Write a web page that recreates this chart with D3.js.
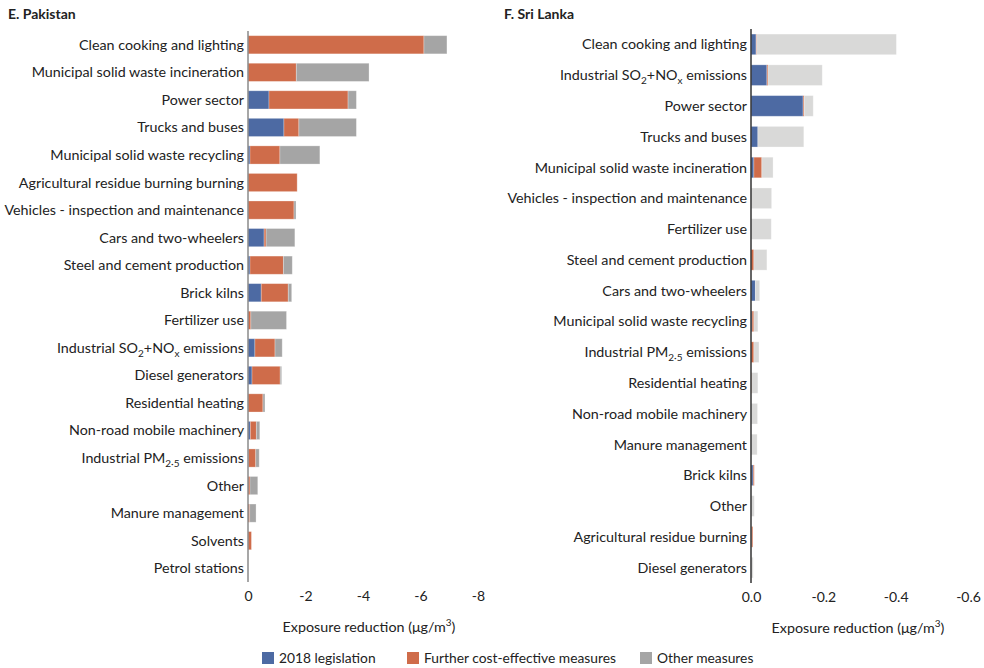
<!DOCTYPE html>
<html lang="en">
<head>
<meta charset="utf-8">
<title>Exposure reduction by sector</title>
<script src="https://d3js.org/d3.v7.min.js"></script>
<style>
  body { margin: 0; background: #fff; }
  svg text { font-family: Lato, "Noto Sans", sans-serif; fill: #222; }
  .title { font-size: 14px; font-weight: bold; }
  .cat { font-size: 14.3px; }
  .tick text { font-size: 14px; }
  .axtitle { font-size: 14.3px; }
  .legend { font-size: 13.8px; }
</style>
</head>
<body>
<svg id="chart" width="984" height="668"></svg>
<script>
// ---- data (exposure reduction, µg/m3, negative = reduction) ----
// {..} marks subscript text
const pkCats = ["Clean cooking and lighting", "Municipal solid waste incineration", "Power sector",
  "Trucks and buses", "Municipal solid waste recycling", "Agricultural residue burning burning",
  "Vehicles - inspection and maintenance", "Cars and two-wheelers", "Steel and cement production",
  "Brick kilns", "Fertilizer use", "Industrial SO{2}+NO{x} emissions", "Diesel generators",
  "Residential heating", "Non-road mobile machinery", "Industrial PM{2·5} emissions", "Other",
  "Manure management", "Solvents", "Petrol stations"];
const pkLegislation = [0, 0, -0.73, -1.25, -0.07, 0, 0, -0.56, -0.07, -0.46, 0, -0.24, -0.14, 0, -0.08, -0.02, 0, 0, 0, 0];
const pkFurther     = [-6.12, -1.68, -2.75, -0.52, -1.04, -1.71, -1.60, -0.07, -1.16, -0.94, -0.10, -0.70, -0.98, -0.52, -0.21, -0.25, -0.07, -0.06, -0.12, 0];
const pkOther       = [-0.80, -2.53, -0.29, -2.00, -1.39, 0, -0.07, -1.00, -0.31, -0.12, -1.24, -0.25, -0.05, -0.07, -0.12, -0.12, -0.27, -0.22, 0, 0];
const pkTicks = [0, -2, -4, -6, -8];

const lkCats = ["Clean cooking and lighting", "Industrial SO{2}+NO{x} emissions", "Power sector",
  "Trucks and buses", "Municipal solid waste incineration", "Vehicles - inspection and maintenance",
  "Fertilizer use", "Steel and cement production", "Cars and two-wheelers",
  "Municipal solid waste recycling", "Industrial PM{2·5} emissions", "Residential heating",
  "Non-road mobile machinery", "Manure management", "Brick kilns", "Other",
  "Agricultural residue burning", "Diesel generators"];
const lkLegislation = [-0.014, -0.044, -0.144, -0.019, -0.008, 0, 0, 0, -0.012, -0.003, 0, 0, 0, 0, -0.006, 0, -0.001, 0];
const lkFurther     = [-0.002, -0.003, -0.003, 0, -0.022, 0, 0, -0.008, 0, -0.005, -0.008, -0.002, 0, 0, -0.003, 0, -0.004, 0];
const lkOther       = [-0.386, -0.150, -0.025, -0.127, -0.031, -0.057, -0.056, -0.036, -0.012, -0.011, -0.014, -0.017, -0.018, -0.017, 0, -0.009, 0, -0.006];
const lkTicks = [0, -0.2, -0.4, -0.6];

const seriesNames = ["2018 legislation", "Further cost-effective measures", "Other measures"];
const colors = ["#4d6aa3", "#cf6c4a", "#a5a5a5"];
const lkOtherColor = "#d9d9d8";

const svg = d3.select("#chart");

// split "abc{sub}def" into tspans, subscript lowered by 4px
function writeLabel(sel, str) {
  const parts = str.split(/(\{[^}]*\})/).filter(p => p.length);
  let shift = 0;
  parts.forEach(p => {
    if (p[0] === "{") {
      sel.append("tspan").attr("font-size", "10px").attr("dy", 4 - shift).text(p.slice(1, -1));
      shift = 4;
    } else {
      sel.append("tspan").attr("dy", -shift).text(p);
      shift = 0;
    }
  });
}

function panel(opt) {
  const g = svg.append("g");
  const y = d3.scaleBand().domain(opt.cats).range([opt.top, opt.bottom]).paddingInner(opt.pad).paddingOuter(opt.pad / 2);
  const x = d3.scaleLinear().domain(opt.domain).range([opt.x0, opt.x1]);

  const rows = opt.cats.map((c, i) => {
    const vals = [opt.leg[i], opt.fur[i], opt.oth[i]];
    let acc = 0;
    return vals.map((v, k) => { const s = acc; acc += v; return { cat: c, k: k, s: s, e: acc }; });
  }).flat();

  g.selectAll("rect.bar").data(rows.filter(d => d.e !== d.s)).join("rect")
    .attr("class", "bar")
    .attr("x", d => x(d.s))
    .attr("y", d => y(d.cat))
    .attr("width", d => x(d.e) - x(d.s))
    .attr("height", y.bandwidth())
    .attr("fill", d => d.k === 2 ? opt.otherColor : colors[d.k])
    .attr("stroke", "rgba(255,255,255,0.35)")
    .attr("stroke-width", 0.8);

  g.selectAll("text.cat").data(opt.cats).join("text")
    .attr("class", "cat")
    .attr("x", opt.x0 - 4)
    .attr("y", d => y(d) + y.bandwidth() / 2 + 5)
    .attr("text-anchor", "end")
    .each(function (d) { writeLabel(d3.select(this), d); });

  // axis line along zero
  g.append("line")
    .attr("x1", x(0)).attr("x2", x(0))
    .attr("y1", opt.top).attr("y2", opt.bottom)
    .attr("stroke", opt.axisColor).attr("stroke-width", 1.5);

  const ax = g.append("g")
    .attr("transform", `translate(0,${opt.bottom})`)
    .call(d3.axisBottom(x).tickValues(opt.ticks).tickSize(0).tickPadding(9)
      .tickFormat(d => opt.fmt(d)));
  ax.select(".domain").remove();
  ax.selectAll("text").attr("fill", "#222").style("font-family", "Lato, 'Noto Sans', sans-serif");

  const t = g.append("text").attr("class", "axtitle")
    .attr("x", opt.titleX).attr("y", opt.bottom + 50).attr("text-anchor", "middle");
  t.append("tspan").text("Exposure reduction (μg/m");
  t.append("tspan").attr("font-size", "10px").attr("dy", -6).text("3");
  t.append("tspan").attr("dy", 6).text(")");

  g.append("text").attr("class", "title").attr("x", opt.titleLeft).attr("y", 19).text(opt.title);
}

panel({
  title: "E. Pakistan", titleLeft: 8,
  cats: pkCats, leg: pkLegislation, fur: pkFurther, oth: pkOther, otherColor: colors[2],
  top: 31, bottom: 582, pad: 0.34,
  domain: [0, -8], x0: 248, x1: 478, ticks: pkTicks,
  fmt: d => d === 0 ? "0" : d3.format("d")(d).replace("−", "-"),
  axisColor: "#8a8a8a", titleX: 369
});

panel({
  title: "F. Sri Lanka", titleLeft: 504,
  cats: lkCats, leg: lkLegislation, fur: lkFurther, oth: lkOther, otherColor: lkOtherColor,
  top: 29, bottom: 583, pad: 0.33,
  domain: [0, -0.6], x0: 751, x1: 968, ticks: lkTicks,
  fmt: d => d3.format(".1f")(d).replace("−", "-"),
  axisColor: "#333", titleX: 858
});

// legend
const legX = [262, 407, 640];
const leg = svg.append("g").attr("transform", "translate(0,652)");
seriesNames.forEach((n, i) => {
  leg.append("rect").attr("x", legX[i]).attr("y", 0).attr("width", 12).attr("height", 12).attr("fill", colors[i]);
  leg.append("text").attr("class", "legend").attr("x", legX[i] + 17).attr("y", 11).text(n);
});
</script>
</body>
</html>
